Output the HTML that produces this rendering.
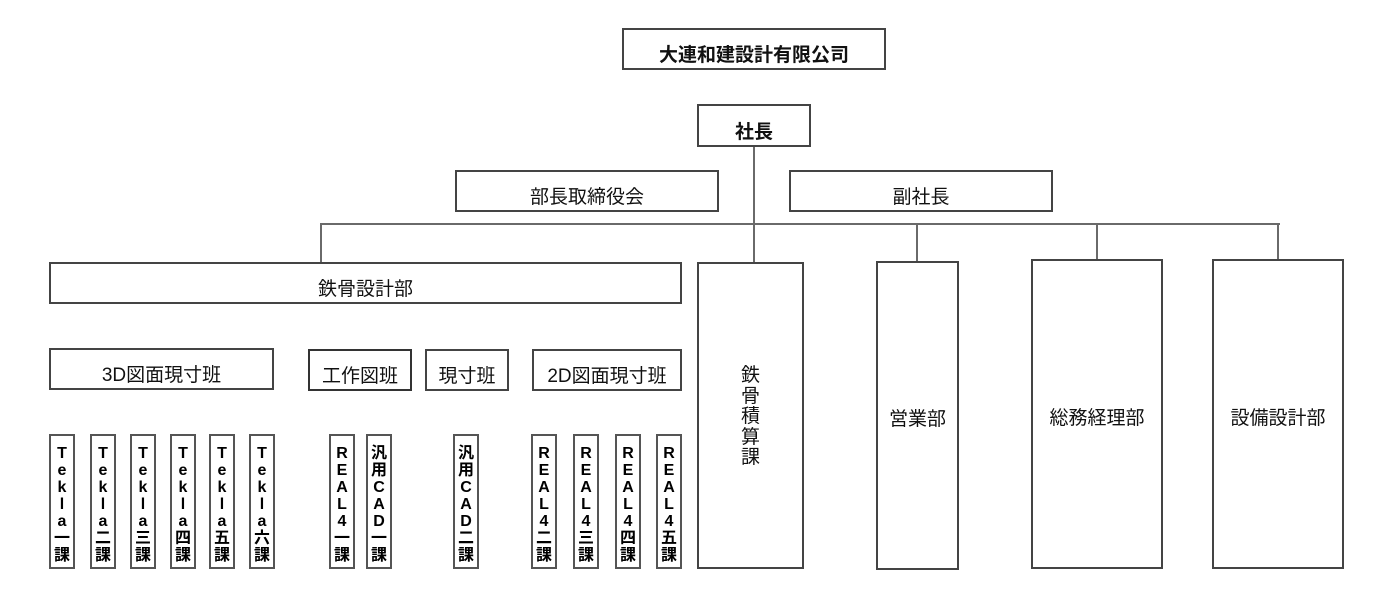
<!DOCTYPE html>
<html>
<head>
<meta charset="utf-8">
<style>
  html, body { margin:0; padding:0; background:#fff; }
  body { width:1400px; height:602px; position:relative; overflow:hidden;
         font-family:"Liberation Sans","Noto Sans CJK JP",sans-serif; color:#111; }
  .b { position:absolute; box-sizing:border-box; border:2px solid #444; background:#fff;
       display:flex; align-items:center; justify-content:center; font-size:19px; white-space:nowrap; }
  .w { padding-top:9px; }
  .bold { font-weight:bold; }
  .t { padding-top:4px; }
  .v { flex-direction:column; line-height:20.5px; text-align:center; }
  .s { position:absolute; box-sizing:border-box; border:2px solid #555; background:#fff;
       top:434px; height:135px; width:26px; font-size:16px; font-weight:bold; line-height:17px;
       text-align:center; padding-top:9px; color:#000; }
  .h { position:absolute; background:#6a6a6a; height:2px; }
  .vl { position:absolute; background:#6a6a6a; width:2px; }
</style>
</head>
<body>
<!-- connectors -->
<div class="vl" style="left:753px; top:146px; height:117px;"></div>
<div class="h" style="left:320px; top:223px; width:960px;"></div>
<div class="vl" style="left:320px; top:223px; height:40px;"></div>
<div class="vl" style="left:916px; top:223px; height:39px;"></div>
<div class="vl" style="left:1096px; top:223px; height:37px;"></div>
<div class="vl" style="left:1277px; top:223px; height:37px;"></div>

<!-- top boxes -->
<div class="b w bold" style="left:622px; top:28px; width:264px; height:42px;">大連和建設計有限公司</div>
<div class="b w bold" style="left:697px; top:104px; width:114px; height:43px;">社長</div>
<div class="b w" style="left:455px; top:170px; width:264px; height:42px;">部長取締役会</div>
<div class="b w" style="left:789px; top:170px; width:264px; height:42px;">副社長</div>

<!-- second level -->
<div class="b w" style="left:49px; top:262px; width:633px; height:42px;">鉄骨設計部</div>
<div class="b v t" style="left:697px; top:262px; width:107px; height:307px;"><span>鉄</span><span>骨</span><span>積</span><span>算</span><span>課</span></div>
<div class="b t" style="left:876px; top:261px; width:83px; height:309px;">営業部</div>
<div class="b t" style="left:1031px; top:259px; width:132px; height:310px;">総務経理部</div>
<div class="b t" style="left:1212px; top:259px; width:132px; height:310px;">設備設計部</div>

<!-- groups -->
<div class="b w" style="left:49px; top:348px; width:225px; height:42px;">3D図面現寸班</div>
<div class="b w" style="left:308px; top:349px; width:104px; height:42px; border-color:#333;">工作図班</div>
<div class="b w" style="left:425px; top:349px; width:84px; height:42px;">現寸班</div>
<div class="b w" style="left:532px; top:349px; width:150px; height:42px;">2D図面現寸班</div>

<!-- small boxes -->
<div class="s" style="left:49px;">T<br>e<br>k<br>l<br>a<br>一<br>課</div>
<div class="s" style="left:90px;">T<br>e<br>k<br>l<br>a<br>二<br>課</div>
<div class="s" style="left:130px;">T<br>e<br>k<br>l<br>a<br>三<br>課</div>
<div class="s" style="left:170px;">T<br>e<br>k<br>l<br>a<br>四<br>課</div>
<div class="s" style="left:209px;">T<br>e<br>k<br>l<br>a<br>五<br>課</div>
<div class="s" style="left:249px;">T<br>e<br>k<br>l<br>a<br>六<br>課</div>

<div class="s" style="left:329px;">R<br>E<br>A<br>L<br>4<br>一<br>課</div>
<div class="s" style="left:366px;">汎<br>用<br>C<br>A<br>D<br>一<br>課</div>
<div class="s" style="left:453px;">汎<br>用<br>C<br>A<br>D<br>二<br>課</div>
<div class="s" style="left:531px;">R<br>E<br>A<br>L<br>4<br>二<br>課</div>
<div class="s" style="left:573px;">R<br>E<br>A<br>L<br>4<br>三<br>課</div>
<div class="s" style="left:615px;">R<br>E<br>A<br>L<br>4<br>四<br>課</div>
<div class="s" style="left:656px;">R<br>E<br>A<br>L<br>4<br>五<br>課</div>
</body>
</html>
